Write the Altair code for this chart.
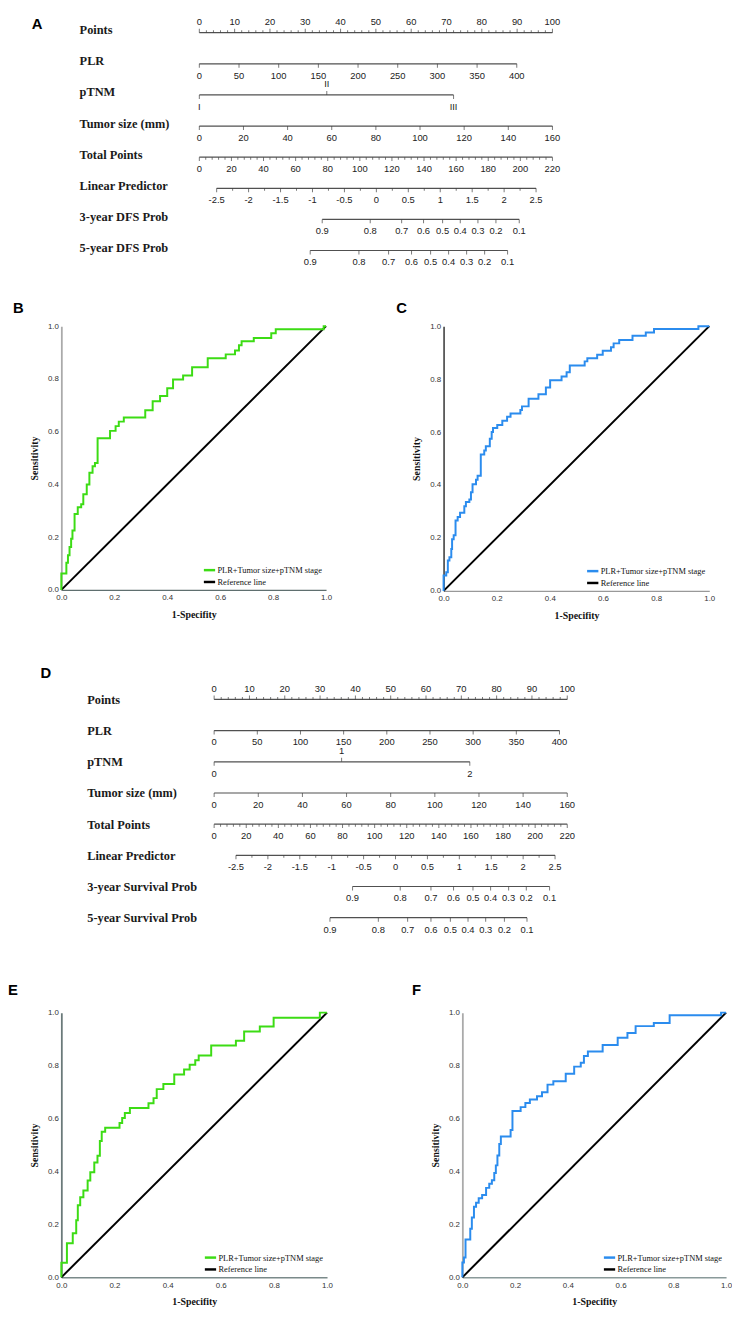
import altair as alt
import pandas as pd

# ---------------- Nomogram data ----------------
ROWS_A = ["Points", "PLR", "pTNM", "Tumor size (mm)", "Total Points",
          "Linear Predictor", "3-year DFS  Prob", "5-year DFS  Prob"]
ROWS_D = ["Points", "PLR", "pTNM", "Tumor size (mm)", "Total Points",
          "Linear Predictor", "3-year Survival Prob", "5-year Survival Prob"]

points_labels = [0, 10, 20, 30, 40, 50, 60, 70, 80, 90, 100]
plr_labels = [0, 50, 100, 150, 200, 250, 300, 350, 400]
tumor_labels = [0, 20, 40, 60, 80, 100, 120, 140, 160]
total_labels = [0, 20, 40, 60, 80, 100, 120, 140, 160, 180, 200, 220]
lp_labels = [-2.5, -2, -1.5, -1, -0.5, 0, 0.5, 1, 1.5, 2, 2.5]
prob_labels = [0.9, 0.8, 0.7, 0.6, 0.5, 0.4, 0.3, 0.2, 0.1]

# panel A (points reached by each scale)
plr_max_pts_A = 89.9
ptnm_text_A = ["I", "II", "III"]
ptnm_pts_A = [0, 36.1, 72.0]
lp_total_A = [10.8, 209.8]
p3_pts_A = [34.8, 48.4, 57.3, 63.5, 68.9, 73.9, 78.9, 84.0, 90.6]
p5_pts_A = [31.4, 45.2, 53.6, 60.1, 65.5, 70.6, 75.7, 80.8, 87.3]

# panel D
plr_max_pts_D = 97.8
ptnm_text_D = ["0", "1", "2"]
ptnm_pts_D = [0, 36.1, 72.4]
lp_total_D = [13.6, 212.4]
p3_pts_D = [39.2, 52.7, 61.4, 67.8, 73.3, 78.3, 83.4, 88.4, 95.0]
p5_pts_D = [32.8, 46.5, 54.8, 61.4, 66.9, 71.9, 76.9, 82.2, 88.6]

# ---------------- ROC data ----------------
SERIES = "PLR+Tumor size+pTNM stage"
REF = "Reference line"
ref_x = [0, 1]
ref_y = [0, 1]

fprB = [0, 0, 0.019, 0.025, 0.031, 0.037, 0.042, 0.050, 0.062, 0.075, 0.083, 0.096, 0.106, 0.118, 0.127,
        0.137, 0.184, 0.205, 0.217, 0.236, 0.317, 0.345, 0.373, 0.400, 0.422, 0.460, 0.494, 0.553, 0.621,
        0.656, 0.671, 0.681, 0.727, 0.793, 0.810, 0.991, 1.0]
tprB = [0, 0.0625, 0.1025, 0.131, 0.163, 0.194, 0.225, 0.288, 0.313, 0.325, 0.363, 0.400, 0.444, 0.469, 0.481,
        0.575, 0.603, 0.621, 0.638, 0.654, 0.681, 0.715, 0.735, 0.765, 0.798, 0.813, 0.844, 0.878, 0.893,
        0.908, 0.928, 0.943, 0.955, 0.973, 0.988, 1.0, 1.0]

fprC = [0, 0, 0.010, 0.016, 0.022, 0.029, 0.032, 0.038, 0.045, 0.053, 0.062, 0.078, 0.084, 0.097, 0.103,
        0.109, 0.122, 0.128, 0.140, 0.153, 0.159, 0.174, 0.181, 0.186, 0.202, 0.221, 0.239, 0.252, 0.289,
        0.295, 0.320, 0.357, 0.385, 0.401, 0.444, 0.463, 0.475, 0.531, 0.541, 0.578, 0.599, 0.630, 0.640,
        0.661, 0.711, 0.761, 0.792, 0.959, 1.0]
tprC = [0, 0.058, 0.07, 0.115, 0.127, 0.158, 0.195, 0.21, 0.266, 0.279, 0.295, 0.32, 0.336, 0.345, 0.373,
        0.403, 0.42, 0.435, 0.515, 0.53, 0.546, 0.575, 0.6, 0.615, 0.627, 0.643, 0.658, 0.67, 0.683,
        0.697, 0.726, 0.743, 0.768, 0.796, 0.81, 0.826, 0.851, 0.867, 0.879, 0.892, 0.907, 0.92, 0.935,
        0.948, 0.964, 0.976, 0.989, 1.0, 1.0]

fprE = [0, 0, 0.021, 0.043, 0.056, 0.062, 0.071, 0.083, 0.099, 0.109, 0.124, 0.136, 0.145, 0.152, 0.165,
        0.219, 0.229, 0.239, 0.258, 0.328, 0.347, 0.359, 0.384, 0.425, 0.462, 0.483, 0.504, 0.517, 0.564,
        0.657, 0.688, 0.747, 0.799, 0.973, 1.0]
tprE = [0, 0.055, 0.129, 0.167, 0.216, 0.272, 0.303, 0.328, 0.366, 0.397, 0.434, 0.459, 0.515, 0.55, 0.565,
        0.583, 0.602, 0.621, 0.64, 0.658, 0.677, 0.711, 0.73, 0.766, 0.785, 0.803, 0.82, 0.838, 0.876,
        0.894, 0.929, 0.948, 0.981, 1.0, 1.0]

fprF = [0, 0, 0.006, 0.012, 0.030, 0.036, 0.044, 0.052, 0.062, 0.075, 0.090, 0.102, 0.112, 0.121, 0.127,
        0.133, 0.140, 0.146, 0.183, 0.190, 0.221, 0.239, 0.256, 0.283, 0.302, 0.323, 0.345, 0.392, 0.424,
        0.449, 0.461, 0.476, 0.532, 0.589, 0.626, 0.657, 0.726, 0.786, 0.981, 1.0]
tprF = [0, 0.056, 0.075, 0.143, 0.184, 0.226, 0.267, 0.282, 0.299, 0.311, 0.338, 0.354, 0.367, 0.394, 0.423,
        0.46, 0.504, 0.532, 0.557, 0.628, 0.643, 0.659, 0.672, 0.684, 0.699, 0.728, 0.741, 0.769, 0.796,
        0.811, 0.836, 0.853, 0.878, 0.905, 0.923, 0.949, 0.961, 0.99, 1.0, 1.0]

GREEN = "#3cdc14"
BLUE = "#2b8cee"

PX_PER_PT = 3.575
NOMO_W = 600
ORIGIN = 62  # page x of the common left edge of the plot areas


def fmt(v):
    return f"{v:g}"


def build_nomo(rows, plr_max, ptnm_text, ptnm_pts, lp_total, p3, p5):
    L, T, X = [], [], []

    def line(row, a, b):
        L.append(dict(row=row, x=a, x2=b))

    def tick(row, x, kind):
        T.append(dict(row=row, x=x, kind=kind))

    def text(row, x, s, side):
        X.append(dict(row=row, x=x, label=s, side=side))

    tot2pts = 100.0 / total_labels[-1]
    # Points
    line(rows[0], points_labels[0], points_labels[-1])
    for v in points_labels:
        tick(rows[0], v, "up")
        text(rows[0], v, fmt(v), "above")
    for v in range(0, 101, 2):
        if v % 10:
            tick(rows[0], v, "up_minor")
    # PLR
    s = plr_max / plr_labels[-1]
    line(rows[1], 0, plr_max)
    for v in plr_labels:
        tick(rows[1], v * s, "down")
        text(rows[1], v * s, fmt(v), "below")
    # pTNM
    line(rows[2], ptnm_pts[0], ptnm_pts[-1])
    for i, (t, p) in enumerate(zip(ptnm_text, ptnm_pts)):
        side = "above" if i == 1 else "below"
        tick(rows[2], p, "up" if side == "above" else "down")
        text(rows[2], p, t, side)
    # Tumor size
    s = 100.0 / tumor_labels[-1]
    line(rows[3], 0, 100)
    for v in tumor_labels:
        tick(rows[3], v * s, "down")
        text(rows[3], v * s, fmt(v), "below")
    # Total points
    line(rows[4], 0, 100)
    for v in total_labels:
        tick(rows[4], v * tot2pts, "down")
        text(rows[4], v * tot2pts, fmt(v), "below")
    for v in range(0, total_labels[-1] + 1, 4):
        if v % 20:
            tick(rows[4], v * tot2pts, "down_minor")

    # Linear predictor
    def lp2pts(v):
        frac = (v - lp_labels[0]) / (lp_labels[-1] - lp_labels[0])
        return (lp_total[0] + frac * (lp_total[1] - lp_total[0])) * tot2pts

    line(rows[5], lp2pts(lp_labels[0]), lp2pts(lp_labels[-1]))
    for v in lp_labels:
        tick(rows[5], lp2pts(v), "down")
        text(rows[5], lp2pts(v), fmt(v), "below")
    for a, b in zip(lp_labels[:-1], lp_labels[1:]):
        tick(rows[5], lp2pts((a + b) / 2), "down_minor")
    # Probabilities
    for r, pts in ((rows[6], p3), (rows[7], p5)):
        line(r, pts[0], pts[-1])
        for v, p in zip(prob_labels, pts):
            tick(r, p, "down")
            text(r, p, fmt(v), "below")
    return pd.DataFrame(L), pd.DataFrame(T), pd.DataFrame(X)


def nomo_chart(rows, frames, letter, zero_page_x, label_page_x, letter_page_x, title_offset,
               height, yrange, label_offset):
    L, T, X = frames
    xmin = -(zero_page_x - ORIGIN) / PX_PER_PT
    xs = alt.X("x:Q", scale=alt.Scale(domain=[xmin, xmin + NOMO_W / PX_PER_PT], nice=False, zero=False),
               axis=None)
    ys = alt.Y("row:N", sort=rows,
               scale=alt.Scale(type="point", domain=rows, range=yrange, padding=0),
               axis=alt.Axis(title=None, domain=False, ticks=False, tickSize=0, grid=False,
                             labelPadding=-(label_page_x - ORIGIN), labelAlign="left",
                             labelBaseline="middle", labelOffset=label_offset,
                             labelFont="Liberation Serif", labelFontSize=12.5,
                             labelFontWeight="bold", labelColor="#1a1a1a", labelLimit=300))
    lines = alt.Chart(L).mark_rule(color="#505050", strokeWidth=1.2).encode(x=xs, x2="x2:Q", y=ys)
    layers = [lines]
    for kind, size, off in (("down", 4, 2), ("up", 4, -2), ("down_minor", 2.5, 1.25), ("up_minor", 2.5, -1.25)):
        layers.append(
            alt.Chart(T).transform_filter(alt.datum.kind == kind)
            .mark_tick(orient="vertical", size=size, thickness=1, yOffset=off, color="#404040")
            .encode(x=xs, y=ys))
    for side, dy in (("below", 12), ("above", -11)):
        layers.append(
            alt.Chart(X).transform_filter(alt.datum.side == side)
            .mark_text(dy=dy, font="Liberation Sans", fontSize=9.5, color="#222222", baseline="middle")
            .encode(x=xs, y=ys, text="label:N"))
    return alt.layer(*layers).properties(
        width=NOMO_W, height=height,
        title=alt.TitleParams(letter, anchor="start", frame="group", dx=letter_page_x - ORIGIN,
                              offset=title_offset, fontSize=15, font="Liberation Sans",
                              fontWeight="bold", color="#000000"))


def roc_chart(fpr, tpr, color, letter, title_dx, title_offset, w, h, ycol, xcol):
    df = pd.DataFrame({"fpr": fpr, "tpr": tpr, "i": list(range(len(fpr))), "series": SERIES})
    rf = pd.DataFrame({"fpr": ref_x, "tpr": ref_y, "i": [0, 1], "series": REF})
    ticks = [0, 0.2, 0.4, 0.6, 0.8, 1.0]
    x = alt.X("fpr:Q", scale=alt.Scale(domain=[0, 1], nice=False),
              axis=alt.Axis(values=ticks, format=".1f", title="1-Specifity", ticks=False, grid=False,
                            labelFont="Liberation Sans", labelFontSize=8, labelColor="#333333",
                            labelPadding=4, titleFont="Liberation Serif", titleFontSize=10,
                            titleFontWeight="bold", titleColor="#111111", titlePadding=8,
                            domainColor=xcol, domainWidth=1.5, labelFlush=False))
    y = alt.Y("tpr:Q", scale=alt.Scale(domain=[0, 1], nice=False),
              axis=alt.Axis(values=ticks, format=".1f", title="Sensitivity", ticks=False, grid=False,
                            labelFont="Liberation Sans", labelFontSize=8, labelColor="#333333",
                            labelPadding=3, titleFont="Liberation Serif", titleFontSize=10,
                            titleFontWeight="bold", titleColor="#111111", titlePadding=8,
                            domainColor=ycol, domainWidth=1.8, labelFlush=False))
    legend = alt.Legend(title=None, orient="bottom-right", offset=3, padding=0, symbolType="stroke",
                        symbolStrokeWidth=2.5, symbolSize=130, labelFont="Liberation Serif",
                        labelFontSize=8.5, labelColor="#111111", rowPadding=0, labelLimit=300,
                        labelOffset=1)
    c = alt.Color("series:N", scale=alt.Scale(domain=[SERIES, REF], range=[color, "#000000"]), legend=legend)
    refl = alt.Chart(rf).mark_line(strokeWidth=2).encode(x=x, y=y, color=c, order="i:Q")
    curve = alt.Chart(df).mark_line(interpolate="step-after", strokeWidth=2).encode(x=x, y=y, color=c, order="i:Q")
    return alt.layer(refl, curve).properties(
        width=w, height=h,
        title=alt.TitleParams(letter, anchor="start", frame="group", dx=title_dx, offset=title_offset,
                              fontSize=15, font="Liberation Sans", fontWeight="bold", color="#000000"))


nomA = nomo_chart(ROWS_A, build_nomo(ROWS_A, plr_max_pts_A, ptnm_text_A, ptnm_pts_A, lp_total_A, p3_pts_A, p5_pts_A),
                  "A", 201.7, 80, 32, -15, 253, [13.9, 234.4], -3)
nomD = nomo_chart(ROWS_D, build_nomo(ROWS_D, plr_max_pts_D, ptnm_text_D, ptnm_pts_D, lp_total_D, p3_pts_D, p5_pts_D),
                  "D", 216.7, 87.7, 41, 0, 265, [18.9, 239.9], 0)

B = roc_chart(fprB, tprB, GREEN, "B", -49, 6, 268, 267, "#aaaaaa", "#5f6f6f")
C = roc_chart(fprC, tprC, BLUE, "C", -48, 6, 269, 268, "#555555", "#999999")
E = roc_chart(fprE, tprE, GREEN, "E", -54, 11, 269, 268, "#6a7a7a", "#7a8a8a")
F = roc_chart(fprF, tprF, BLUE, "F", -51, 11, 267, 268, "#aaaaaa", "#8a9a9a")

rowBC = alt.hconcat(B, C, spacing=65).resolve_scale(color="independent")
rowEF = alt.hconcat(E, F, spacing=80).resolve_scale(color="independent")

top = alt.concat(nomA, rowBC, columns=1, spacing=33, align="none").resolve_scale(color="independent")
bottom = alt.concat(nomD, rowEF, columns=1, spacing=41, align="none").resolve_scale(color="independent")

chart = (alt.concat(top, bottom, columns=1, spacing=46, align="none")
         .resolve_scale(color="independent")
         .configure_view(stroke=None)
         .properties(padding=0))

chart.save("out.html", embed_options={"renderer": "svg", "actions": False})
